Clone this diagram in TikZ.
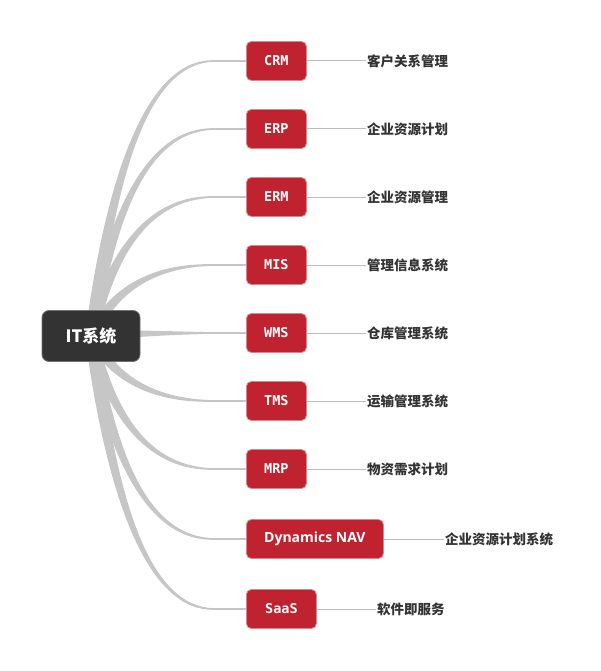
\documentclass[tikz,border=0pt]{standalone}
\usepackage{fontspec}
\setmainfont{DejaVu Sans}
\newfontfamily\cjk{Noto Sans CJK SC}
\newfontfamily\monof{DejaVu Sans Mono}
\newfontfamily\sansf{Open Sans}
\usetikzlibrary{calc,backgrounds}
\definecolor{boxred}{HTML}{C0232F}
\definecolor{boxredline}{HTML}{D9868B}
\definecolor{rootfill}{HTML}{333333}
\definecolor{branchgray}{HTML}{C6C6C6}
\definecolor{leafgray}{HTML}{BDBDBD}
\definecolor{labeltext}{HTML}{333333}
\tikzset{
  rootbox/.style={draw=rootfill!70!white, line width=0.8pt, fill=rootfill, rounded corners=7pt, minimum width=98pt, minimum height=51pt, inner sep=0pt, text=white, font=\cjk\bfseries\fontsize{17}{20}\selectfont},
  redbox/.style={draw=boxredline, line width=0.8pt, fill=boxred, rounded corners=5pt, minimum height=39pt, inner sep=0pt, anchor=west, text=white, font=\monof\bfseries\fontsize{13.5}{15}\selectfont},
  leaflabel/.style={anchor=west, inner sep=1pt, text=labeltext, font=\cjk\bfseries\fontsize{13.5}{16}\selectfont},
  leafline/.style={draw=leafgray, line width=1pt},
  branchfill/.style={fill=branchgray},
  stemline/.style={draw=branchgray, line width=1.6pt},
}
\begin{document}
\begin{tikzpicture}[x=1pt,y=-1pt]
\useasboundingbox (0,0) rectangle (600,671);
\node[rootbox] (root) at (91,336) {IT系统};

\node[redbox, minimum width=60pt] (crm) at (246,61) {CRM};
\node[redbox, minimum width=60pt] (erp) at (246,129) {ERP};
\node[redbox, minimum width=60pt] (erm) at (246,197) {ERM};
\node[redbox, minimum width=60pt] (mis) at (246,265) {MIS};
\node[redbox, minimum width=60pt] (wms) at (246,333) {WMS};
\node[redbox, minimum width=60pt] (tms) at (246,401) {TMS};
\node[redbox, minimum width=60pt] (mrp) at (246,469) {MRP};
\node[redbox, minimum width=137pt, font=\sansf\bfseries\fontsize{14}{16}\selectfont] (nav) at (246,539) {Dynamics NAV};
\node[redbox, minimum width=70pt] (saas) at (246,609) {SaaS};

\node[leaflabel] (lcrm) at (366,61) {客户关系管理};
\node[leaflabel] (lerp) at (366,129) {企业资源计划};
\node[leaflabel] (lerm) at (366,197) {企业资源管理};
\node[leaflabel] (lmis) at (366,265) {管理信息系统};
\node[leaflabel] (lwms) at (366,333) {仓库管理系统};
\node[leaflabel] (ltms) at (366,401) {运输管理系统};
\node[leaflabel] (lmrp) at (366,469) {物资需求计划};
\node[leaflabel] (lnav) at (444,539) {企业资源计划系统};
\node[leaflabel] (lsaas) at (376,609) {软件即服务};

\foreach \n in {crm,erp,erm,mis,wms,tms,mrp,nav,saas}{
  \draw[leafline] (\n.east) -- (l\n.west);
}

\begin{scope}[on background layer]
\foreach \n/\yy in {crm/61,erp/129,erm/197,mis/265,wms/333,tms/401,mrp/469,nav/539,saas/609}{
  \pgfmathsetmacro\cy{336+0.62*(\yy-336)}
  \coordinate (P0) at (root.center);
  \coordinate (P1) at (112,\cy);
  \coordinate (P2) at (150,\yy);
  \coordinate (P3) at ($(\n.west)+(-32,0)$);
  \fill[branchfill] ($(P0)!6pt!90:(P1)$) .. controls ($(P1)!4.5pt!90:(P2)$) and ($(P2)!2.2pt!90:(P3)$) .. ($(P3)!0.8pt!-90:(P2)$)
     -- ($(P3)!0.8pt!90:(P2)$) .. controls ($(P2)!2.2pt!-90:(P3)$) and ($(P1)!4.5pt!-90:(P2)$) .. ($(P0)!6pt!-90:(P1)$) -- cycle;
  \draw[stemline] (P3) -- (\n.west);
}
\end{scope}
\end{tikzpicture}
\end{document}
